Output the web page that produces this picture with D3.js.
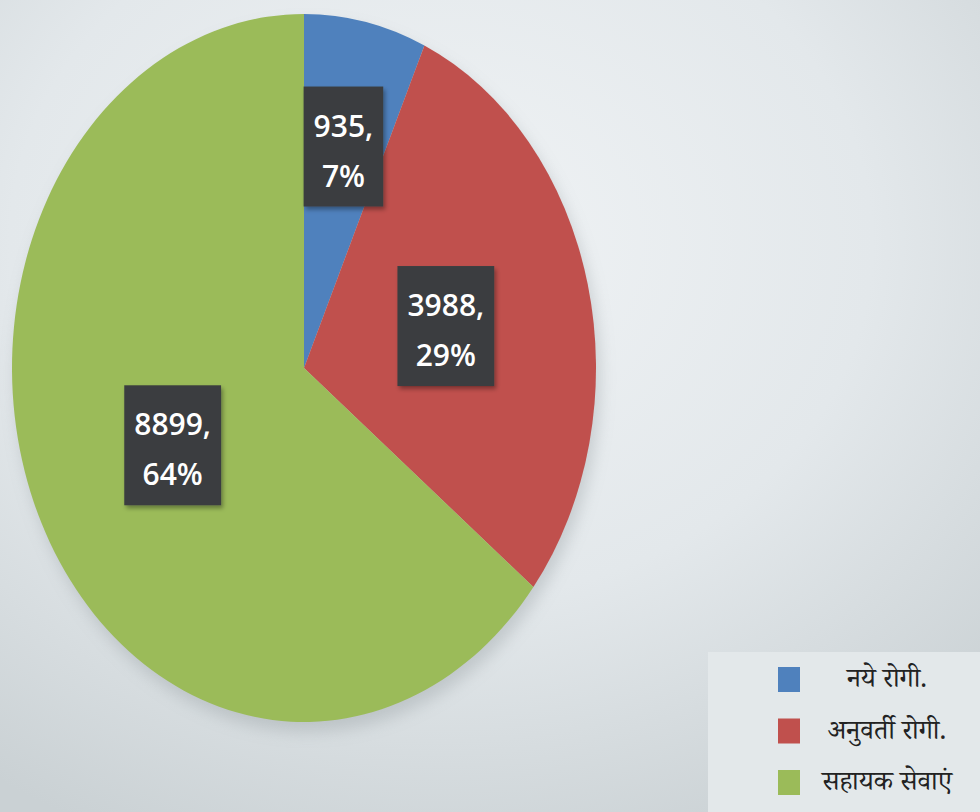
<!DOCTYPE html>
<html>
<head>
<meta charset="utf-8">
<script src="https://cdn.jsdelivr.net/npm/d3@7"></script>
<style>
  body { margin: 0; padding: 0; overflow: hidden; }
  svg { display: block; }
</style>
</head>
<body>
<div id="chart"></div>
<script>
// data
var categories = ["नये रोगी.", "अनुवर्ती रोगी.", "सहायक सेवाएं"]
var values = [935, 3988, 8899]
var percents = ["7%", "29%", "64%"]
var colors = ["#4f81bd", "#c0504d", "#9bbb59"]

var width = 980, height = 812
var cx = 304, cy = 368
var rx = 292, ry = 354

var svg = d3.select("#chart")
    .append("svg")
    .attr("width", width)
    .attr("height", height)

var defs = svg.append("defs")

// background gradient
var bg = defs.append("radialGradient")
    .attr("id", "bg")
    .attr("cx", "45%").attr("cy", "30%").attr("r", "80%")
bg.append("stop").attr("offset", "0%").attr("stop-color", "#f0f3f5")
bg.append("stop").attr("offset", "55%").attr("stop-color", "#e3e8eb")
bg.append("stop").attr("offset", "100%").attr("stop-color", "#cad1d4")

svg.append("rect")
    .attr("width", width)
    .attr("height", height)
    .attr("fill", "url(#bg)")

var blur = defs.append("filter").attr("id", "blur")
    .attr("x", "-20%").attr("y", "-20%").attr("width", "140%").attr("height", "140%")
blur.append("feGaussianBlur").attr("stdDeviation", 8)

var boxShadow = defs.append("filter").attr("id", "bshadow")
    .attr("x", "-20%").attr("y", "-20%").attr("width", "150%").attr("height", "150%")
boxShadow.append("feDropShadow")
    .attr("dx", 2).attr("dy", 3).attr("stdDeviation", 2)
    .attr("flood-color", "#000").attr("flood-opacity", 0.35)

// soft shadow under the pie
svg.append("ellipse")
    .attr("cx", cx + 4)
    .attr("cy", cy + 10)
    .attr("rx", rx)
    .attr("ry", ry)
    .attr("fill", "#8a9396")
    .attr("opacity", 0.35)
    .attr("filter", "url(#blur)")

var pie = d3.pie().sort(null).value(function (d) { return d })
var arcs = pie(values)

var arc = d3.arc().innerRadius(0).outerRadius(rx)

// the original pie is stretched vertically
var pieG = svg.append("g")
    .attr("transform", "translate(" + cx + "," + cy + ") scale(1," + (ry / rx) + ")")

pieG.selectAll("path")
    .data(arcs)
    .enter()
    .append("path")
    .attr("d", arc)
    .attr("fill", function (d, i) { return colors[i] })
    .attr("stroke", "none")

// data labels
var labelG = svg.append("g")
var labelFont = "'Open Sans', 'Noto Sans', sans-serif"

arcs.forEach(function (d, i) {
    var frac = (d.endAngle - d.startAngle) < 0.6 ? 0.64 : 0.5
    var mid = (d.startAngle + d.endAngle) / 2
    var x = cx + Math.sin(mid) * rx * frac
    var y = cy - Math.cos(mid) * ry * frac

    var g = labelG.append("g")
    var rect = g.append("rect").attr("fill", "#3a3e41").attr("filter", "url(#bshadow)")
    var t = g.append("text")
        .attr("text-anchor", "middle")
        .attr("fill", "#ffffff")
        .style("font-family", labelFont)
        .style("font-size", "30px")
        .style("font-weight", "600")
    t.append("tspan").attr("x", x).attr("y", y - 10).text(values[i] + ",")
    t.append("tspan").attr("x", x).attr("y", y + 40).text(percents[i])

    var bb = t.node().getBBox()
    rect.attr("x", bb.x - 10)
        .attr("y", y - 60)
        .attr("width", bb.width + 20)
        .attr("height", 120)
})

// legend
var legend = svg.append("g")
legend.append("rect")
    .attr("x", 708)
    .attr("y", 652)
    .attr("width", width - 708)
    .attr("height", height - 652)
    .attr("fill", "#e3e8ea")

var legendY = d3.scalePoint()
    .domain(categories)
    .range([679, 782])

legend.selectAll("rect.sw")
    .data(categories)
    .enter()
    .append("rect")
    .attr("class", "sw")
    .attr("x", 778)
    .attr("y", function (d) { return legendY(d) - 12 })
    .attr("width", 22)
    .attr("height", 25)
    .attr("fill", function (d, i) { return colors[i] })

legend.selectAll("text.lab")
    .data(categories)
    .enter()
    .append("text")
    .attr("class", "lab")
    .attr("x", 887)
    .attr("y", function (d) { return legendY(d) + 8 })
    .attr("text-anchor", "middle")
    .attr("fill", "#222222")
    .style("font-family", "'Noto Serif Devanagari', 'Lohit Devanagari', 'FreeSerif', 'Noto Sans Devanagari', serif")
    .style("font-size", "27px")
    .text(function (d) { return d })
</script>
</body>
</html>
